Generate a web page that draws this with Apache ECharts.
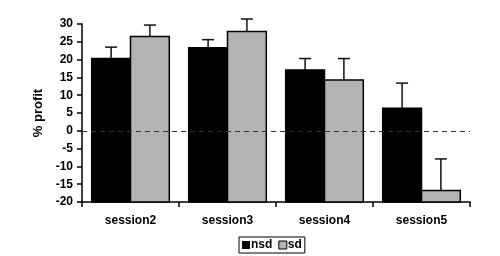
<!DOCTYPE html>
<html><head><meta charset="utf-8">
<script src="https://cdn.jsdelivr.net/npm/echarts@6/dist/echarts.min.js"></script>
<style>html,body{margin:0;padding:0;background:#fff}#c{width:500px;height:256px}</style>
</head><body><div id="c"></div>
<script>
var categories = ['session2', 'session3', 'session4', 'session5'];
var nsdValues = [20.3, 23.3, 17.1, 6.3];
var nsdErrTop = [23.5, 25.6, 20.3, 13.4];
var sdValues = [26.5, 27.9, 14.3, -16.8];
var sdErrTop = [29.7, 31.4, 20.3, -7.9];
var yTicks = [30, 25, 20, 15, 10, 5, 0, -5, -10, -15, -20];

var BASE = -20;
function makeRender(slot, fill) {
  return function (params, api) {
    var ci = api.value(0), v = api.value(1), e = api.value(2);
    var band = api.size([1, 0])[0];
    var bw = band * 0.4;
    var center = api.coord([ci, 0])[0];
    var x0 = center - bw + slot * bw;
    var top = api.coord([ci, v])[1];
    var bot = api.coord([ci, BASE])[1];
    var eTop = api.coord([ci, e])[1];
    var mid = x0 + bw / 2;
    return {
      type: 'group',
      children: [
        {type: 'line', shape: {x1: mid, y1: top, x2: mid, y2: eTop}, style: {stroke: '#111', lineWidth: 1.5}},
        {type: 'line', shape: {x1: mid - 6, y1: eTop, x2: mid + 6, y2: eTop}, style: {stroke: '#111', lineWidth: 1.5}},
        {type: 'rect', shape: {x: x0, y: top, width: bw, height: bot - top}, style: {fill: fill, stroke: '#000', lineWidth: 1.5}}
      ]
    };
  };
}
function rows(vals, errs) { return vals.map(function (v, i) { return [i, v, errs[i]]; }); }

var chart = echarts.init(document.getElementById('c'), null, {renderer: 'canvas'});
chart.setOption({
  animation: false,
  backgroundColor: '#fff',
  textStyle: {fontFamily: 'Liberation Sans, Arial, sans-serif'},
  grid: {left: 82, right: 30, top: 24, bottom: 54},
  legend: {
    top: 237, left: 239, itemWidth: 8, itemHeight: 8, itemGap: 6,
    borderColor: '#000', borderWidth: 1, padding: [2, 3, 2, 3],
    icon: 'rect',
    textStyle: {fontWeight: 'bold', fontSize: 12, color: '#000', padding: [0, 0, 0, -4]},
    data: [{name: 'nsd', itemStyle: {color: '#000'}}, {name: 'sd', itemStyle: {color: '#b3b3b3', borderColor: '#000', borderWidth: 1}}]
  },
  xAxis: {
    type: 'category', data: categories,
    axisLine: {onZero: false, lineStyle: {color: '#000', width: 1.5}},
    axisTick: {show: true, length: 5, lineStyle: {color: '#000', width: 1.5}},
    axisLabel: {fontWeight: 'bold', fontSize: 12, color: '#000', margin: 13}
  },
  yAxis: {
    type: 'value', min: -20, max: 30, interval: 5,
    name: '% profit', nameLocation: 'middle', nameGap: 29, nameRotate: 90,
    nameTextStyle: {fontWeight: 'bold', fontSize: 13, color: '#000'},
    axisLine: {show: true, lineStyle: {color: '#000', width: 1.5}},
    axisTick: {show: true, length: 5, lineStyle: {color: '#000', width: 1.5}},
    splitLine: {show: false},
    axisLabel: {fontWeight: 'bold', fontSize: 12, color: '#000', margin: 9}
  },
  series: [
    {name: 'nsd', type: 'custom', renderItem: makeRender(0, '#000'), data: rows(nsdValues, nsdErrTop),
     encode: {x: 0, y: [1, 2]}, itemStyle: {color: '#000'}, z: 2},
    {name: 'sd', type: 'custom', renderItem: makeRender(1, '#b3b3b3'), data: rows(sdValues, sdErrTop),
     encode: {x: 0, y: [1, 2]}, itemStyle: {color: '#b3b3b3'}, z: 2,
     markLine: {silent: true, symbol: 'none', label: {show: false}, z: 5,
       lineStyle: {type: [5, 4], color: '#333', width: 1.2},
       data: [{yAxis: 0}]}}
  ]
});
</script></body></html>
